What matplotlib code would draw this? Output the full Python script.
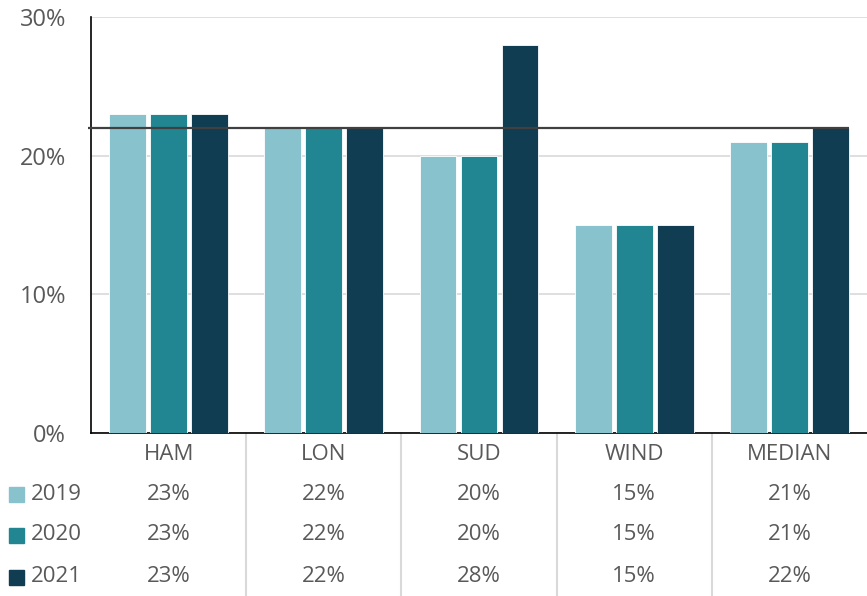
import matplotlib.pyplot as plt
import matplotlib.transforms as mtransforms
import numpy as np

categories = ["HAM", "LON", "SUD", "WIND", "MEDIAN"]
years = ["2019", "2020", "2021"]
v2019 = [23, 22, 20, 15, 21]
v2020 = [23, 22, 20, 15, 21]
v2021 = [23, 22, 28, 15, 22]
target = 22
colors = ["#88c2cd", "#218692", "#103d51"]

plt.rcParams['font.family'] = ['Open Sans', 'DejaVu Sans']
txt = "#595959"

fig = plt.figure(figsize=(8.67, 5.96), dpi=100)
ax = fig.add_axes([91/867, 1 - 433/596, 1 - 91/867, 416/596])

x = np.arange(len(categories))
w = 0.238
step = 0.264
series = [v2019, v2020, v2021]
for i, vals in enumerate(series):
    ax.bar(x + (i - 1) * step, vals, w, color=colors[i], edgecolor="white", linewidth=0.6, zorder=3)

# reference line at the median value
ax.hlines(target, -0.52, x[-1] + step + w / 2, color="#404040", linewidth=1.6, zorder=4, clip_on=False)

ax.set_xlim(-0.5, len(categories) - 0.5)
ax.set_ylim(0, 30)
ax.set_yticks([0, 10, 20, 30])
ax.set_yticklabels(["0%", "10%", "20%", "30%"], color=txt, fontsize=17)
ax.tick_params(axis="y", length=0, pad=18)
ax.set_xticks([])
ax.grid(axis="y", color="#d9d9d9", linewidth=1.2, zorder=0)
for s in ["top", "right"]:
    ax.spines[s].set_visible(False)
ax.spines["left"].set_color("black")
ax.spines["bottom"].set_color("black")
ax.spines["left"].set_linewidth(1.2)
ax.spines["bottom"].set_linewidth(1.2)

# data table under the chart
trans = mtransforms.blended_transform_factory(ax.transData, fig.transFigure)
ftrans = fig.transFigure
for k in range(1, len(categories)):
    ax.plot([k - 0.5, k - 0.5], [0, 1 - 433/596], transform=trans, color="#d9d9d9",
            linewidth=1.5, clip_on=False)

header_y = 1 - 455/596
row_y = [1 - 494/596, 1 - 535/596, 1 - 577/596]
for j, c in enumerate(categories):
    ax.text(j, header_y, c, transform=trans, ha="center", va="center", color=txt, fontsize=16)
for r, vals in enumerate(series):
    for j, v in enumerate(vals):
        ax.text(j, row_y[r], f"{v}%", transform=trans, ha="center", va="center", color=txt, fontsize=16)
    fig.patches.append(plt.Rectangle((9/867, row_y[r] - 7.5/596), 15/867, 15/596,
                                     transform=ftrans, color=colors[r]))
    fig.text(31/867, row_y[r], years[r], ha="left", va="center", color=txt, fontsize=16)

fig.savefig("out.png", dpi=100)
